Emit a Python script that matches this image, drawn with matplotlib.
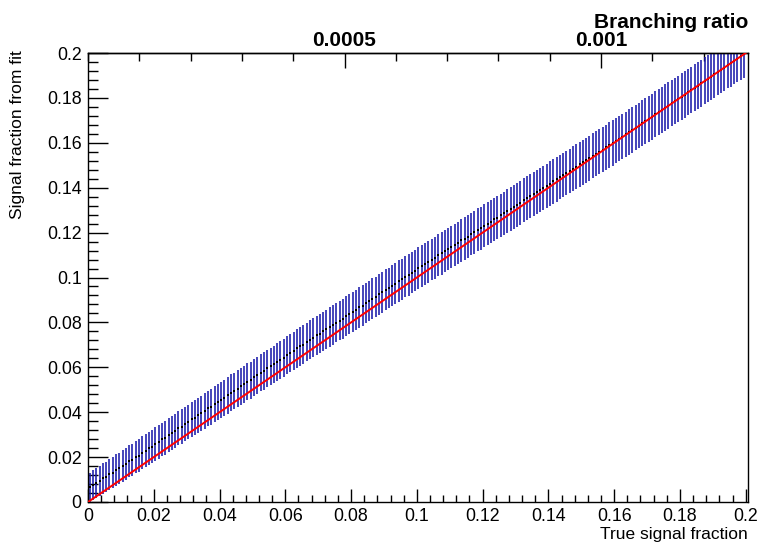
import numpy as np
import matplotlib
matplotlib.use("Agg")
import matplotlib.pyplot as plt
from matplotlib.ticker import MultipleLocator

plt.rcParams['font.family'] = ['Liberation Sans', 'DejaVu Sans']

# ---------------- data ----------------
true_frac = np.round(0.0005 + 0.001 * np.arange(200), 4)

fit_frac = [
    0.0065, 0.0077, 0.0084, 0.0093, 0.0105, 0.0112, 0.0123, 0.0131, 0.0142, 0.0150,
    0.0160, 0.0169, 0.0181, 0.0188, 0.0199, 0.0207, 0.0219, 0.0228, 0.0240, 0.0247,
    0.0258, 0.0267, 0.0279, 0.0286, 0.0298, 0.0307, 0.0315, 0.0328, 0.0336, 0.0347,
    0.0356, 0.0368, 0.0375, 0.0387, 0.0396, 0.0405, 0.0417, 0.0424, 0.0436, 0.0445,
    0.0456, 0.0464, 0.0475, 0.0487, 0.0494, 0.0505, 0.0516, 0.0524, 0.0535, 0.0543,
    0.0555, 0.0564, 0.0576, 0.0583, 0.0595, 0.0604, 0.0613, 0.0625, 0.0634, 0.0642,
    0.0654, 0.0663, 0.0672, 0.0684, 0.0693, 0.0701, 0.0713, 0.0722, 0.0731, 0.0742,
    0.0750, 0.0761, 0.0769, 0.0780, 0.0788, 0.0799, 0.0808, 0.0817, 0.0829, 0.0837,
    0.0848, 0.0856, 0.0867, 0.0875, 0.0886, 0.0895, 0.0906, 0.0914, 0.0925, 0.0934,
    0.0945, 0.0953, 0.0964, 0.0973, 0.0984, 0.0992, 0.1003, 0.1011, 0.1022, 0.1031,
    0.1041, 0.1050, 0.1061, 0.1069, 0.1080, 0.1088, 0.1099, 0.1107, 0.1118, 0.1126,
    0.1136, 0.1145, 0.1154, 0.1165, 0.1173, 0.1182, 0.1193, 0.1201, 0.1212, 0.1220,
    0.1230, 0.1239, 0.1248, 0.1259, 0.1267, 0.1277, 0.1286, 0.1295, 0.1306, 0.1314,
    0.1324, 0.1333, 0.1343, 0.1352, 0.1361, 0.1372, 0.1380, 0.1390, 0.1399, 0.1409,
    0.1418, 0.1428, 0.1437, 0.1447, 0.1456, 0.1466, 0.1475, 0.1485, 0.1494, 0.1504,
    0.1513, 0.1523, 0.1532, 0.1542, 0.1551, 0.1561, 0.1570, 0.1580, 0.1590, 0.1599,
    0.1609, 0.1619, 0.1628, 0.1638, 0.1648, 0.1657, 0.1668, 0.1677, 0.1687, 0.1697,
    0.1707, 0.1716, 0.1727, 0.1736, 0.1746, 0.1757, 0.1766, 0.1776, 0.1785, 0.1796,
    0.1806, 0.1815, 0.1826, 0.1835, 0.1846, 0.1855, 0.1865, 0.1876, 0.1885, 0.1895,
    0.1905, 0.1916, 0.1925, 0.1935, 0.1946, 0.1955, 0.1965, 0.1975, 0.1986, 0.1995,
]

fit_err = [
    0.0065, 0.0066, 0.0067, 0.0067, 0.0068, 0.0068, 0.0069, 0.0069, 0.0070, 0.0070,
    0.0071, 0.0071, 0.0071, 0.0072, 0.0072, 0.0072, 0.0073, 0.0073, 0.0073, 0.0074,
    0.0074, 0.0074, 0.0075, 0.0075, 0.0075, 0.0076, 0.0076, 0.0076, 0.0077, 0.0077,
    0.0077, 0.0078, 0.0078, 0.0078, 0.0078, 0.0079, 0.0079, 0.0079, 0.0080, 0.0080,
    0.0080, 0.0080, 0.0081, 0.0081, 0.0081, 0.0081, 0.0082, 0.0082, 0.0082, 0.0082,
    0.0083, 0.0083, 0.0083, 0.0083, 0.0084, 0.0084, 0.0084, 0.0084, 0.0085, 0.0085,
    0.0085, 0.0085, 0.0085, 0.0086, 0.0086, 0.0086, 0.0086, 0.0087, 0.0087, 0.0087,
    0.0087, 0.0087, 0.0088, 0.0088, 0.0088, 0.0088, 0.0088, 0.0089, 0.0089, 0.0089,
    0.0089, 0.0089, 0.0090, 0.0090, 0.0090, 0.0090, 0.0090, 0.0090, 0.0091, 0.0091,
    0.0091, 0.0091, 0.0091, 0.0092, 0.0092, 0.0092, 0.0092, 0.0092, 0.0092, 0.0093,
    0.0093, 0.0093, 0.0093, 0.0093, 0.0093, 0.0094, 0.0094, 0.0094, 0.0094, 0.0094,
    0.0094, 0.0095, 0.0095, 0.0095, 0.0095, 0.0095, 0.0095, 0.0095, 0.0096, 0.0096,
    0.0096, 0.0096, 0.0096, 0.0096, 0.0096, 0.0097, 0.0097, 0.0097, 0.0097, 0.0097,
    0.0097, 0.0097, 0.0098, 0.0098, 0.0098, 0.0098, 0.0098, 0.0098, 0.0098, 0.0098,
    0.0099, 0.0099, 0.0099, 0.0099, 0.0099, 0.0099, 0.0099, 0.0099, 0.0100, 0.0100,
    0.0100, 0.0100, 0.0100, 0.0100, 0.0100, 0.0100, 0.0100, 0.0101, 0.0101, 0.0101,
    0.0101, 0.0101, 0.0101, 0.0101, 0.0101, 0.0101, 0.0102, 0.0102, 0.0102, 0.0102,
    0.0102, 0.0102, 0.0102, 0.0102, 0.0102, 0.0103, 0.0103, 0.0103, 0.0103, 0.0103,
    0.0103, 0.0103, 0.0103, 0.0103, 0.0103, 0.0104, 0.0104, 0.0104, 0.0104, 0.0104,
    0.0104, 0.0104, 0.0104, 0.0104, 0.0104, 0.0105, 0.0105, 0.0105, 0.0105, 0.0105,
]

ideal_x = [0.0, 0.2]
ideal_y = [0.0, 0.2]

br_per_frac = 0.00641  # branching ratio per unit true signal fraction

x_ticks = [0.0, 0.02, 0.04, 0.06, 0.08, 0.1, 0.12, 0.14, 0.16, 0.18, 0.2]
x_tick_labels = ["0", "0.02", "0.04", "0.06", "0.08", "0.1", "0.12", "0.14", "0.16", "0.18", "0.2"]
y_ticks = [0.0, 0.02, 0.04, 0.06, 0.08, 0.1, 0.12, 0.14, 0.16, 0.18, 0.2]
y_tick_labels = ["0", "0.02", "0.04", "0.06", "0.08", "0.1", "0.12", "0.14", "0.16", "0.18", "0.2"]
br_ticks = [0.0005, 0.001]
br_tick_labels = ["0.0005", "0.001"]

# ---------------- figure ----------------
W, H = 760, 547
fig = plt.figure(figsize=(W / 100, H / 100), dpi=100)
L, R, B, T = 88, 748, 502, 53
ax = fig.add_axes([L / W, (H - B) / H, (R - L) / W, (B - T) / H])

ax.errorbar(true_frac, fit_frac, yerr=fit_err, fmt='none', ecolor='#1a1aaa',
            elinewidth=1.15, capsize=0, zorder=2)
ax.plot(true_frac, fit_frac, linestyle='none', marker='s', markersize=2.0,
        color='black', markeredgewidth=0, zorder=3)
ax.plot(ideal_x, ideal_y, color='#ff0000', linewidth=1.4, zorder=4)

ax.set_xlim(0, 0.2007)
ax.set_ylim(0, 0.2)

ax.set_xticks(x_ticks)
ax.set_xticklabels(x_tick_labels)
ax.set_yticks(y_ticks)
ax.set_yticklabels(y_tick_labels)
ax.xaxis.set_minor_locator(MultipleLocator(0.004))
ax.yaxis.set_minor_locator(MultipleLocator(0.004))

ax.tick_params(axis='x', which='major', direction='in', length=9.4, width=1.0,
               labelsize=12.8, pad=4.5, top=False)
ax.tick_params(axis='x', which='minor', direction='in', length=4.7, width=1.0, top=False)
ax.tick_params(axis='y', which='major', direction='in', length=14.3, width=1.0,
               labelsize=12.8, pad=4.5, right=False)
ax.tick_params(axis='y', which='minor', direction='in', length=7.2, width=1.0, right=False)

for s in ax.spines.values():
    s.set_linewidth(1.0)
    s.set_color('black')

# x / y axis titles (ROOT style, right/top aligned)
fig.text(R / W, 1 - 535 / H, "True signal fraction", ha='right', va='center', fontsize=12.5)
fig.text(18 / W, 1 - 50 / H, "Signal fraction from fit", ha='center', va='top',
         rotation=90, fontsize=12.5)

# top branching-ratio axis
sec = ax.secondary_xaxis('top', functions=(lambda x: x * br_per_frac,
                                           lambda b: b / br_per_frac))
sec.set_xticks(br_ticks)
sec.set_xticklabels(br_tick_labels, fontweight='bold')
sec.xaxis.set_minor_locator(MultipleLocator(0.0001))
sec.tick_params(axis='x', which='major', direction='in', length=10.5, width=1.0,
                labelsize=15, pad=2)
sec.tick_params(axis='x', which='minor', direction='in', length=5.4, width=1.0)
sec.spines['top'].set_linewidth(1.0)
fig.text(R / W, 1 - 22 / H, "Branching ratio", ha='right', va='center',
         fontsize=15, fontweight='bold')

fig.savefig("out.png", dpi=100)
